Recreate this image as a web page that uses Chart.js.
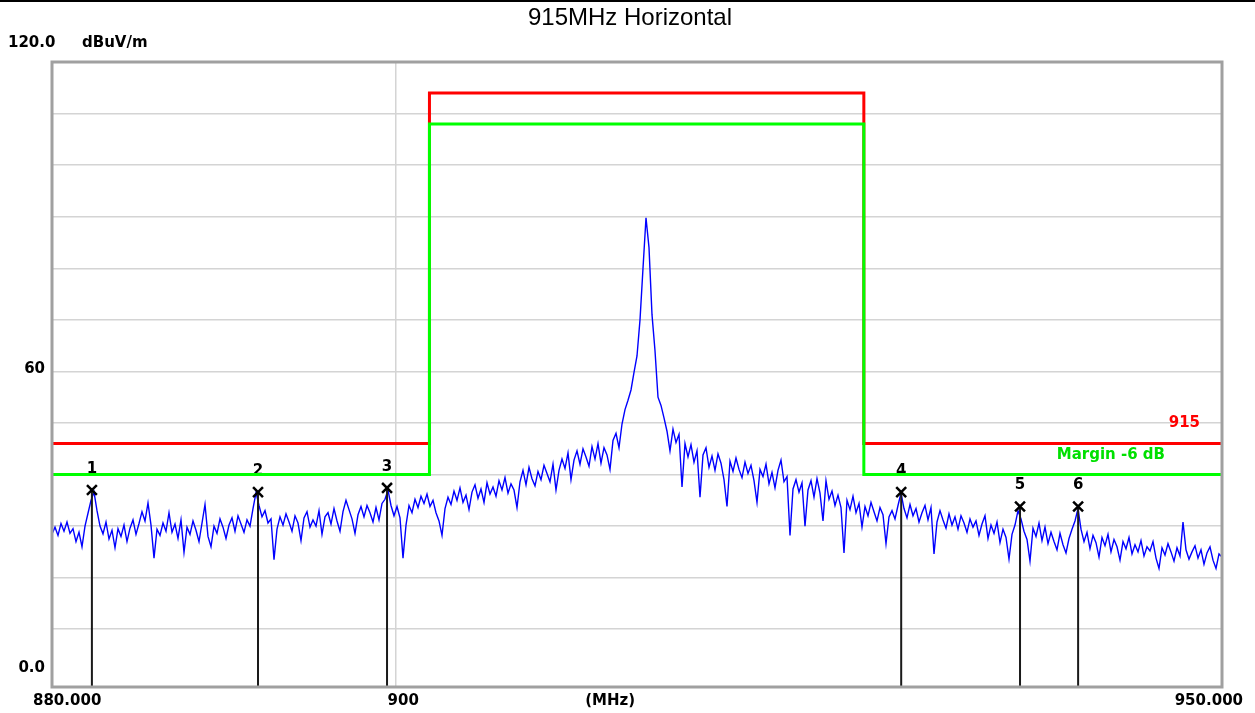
<!DOCTYPE html>
<html>
<head>
<meta charset="utf-8">
<script src="https://cdn.jsdelivr.net/npm/chart.js@4.4.1/dist/chart.umd.min.js"></script>
<style>
  html, body { margin: 0; padding: 0; background: #fff; }
  canvas { display: block; }
</style>
</head>
<body>
<canvas id="emiChart" width="1255" height="713"></canvas>
<script>
// sweep 880 - 950 MHz, levels in dBuV/m
const startFreq = 880;
const stopFreq = 950;
const yMin = -1.2;
const yMax = 120;

const limitFreqs = [880, 902, 902, 928, 928, 950];
const limitLevels = [46, 46, 114, 114, 46, 46];
const marginLevels = [40, 40, 108, 108, 40, 40];

const markerNames = ['1', '2', '3', '4', '5', '6'];
const markerFreqs = [882.30, 891.94, 899.50, 930.27, 937.53, 941.10];
const markerLevels = [37.0, 36.6, 37.4, 36.6, 33.8, 33.8];

const yLabelValues = [120, 60, 0];
const yLabelTexts = ['120.0', '60', '0.0'];
const xLabelValues = [880, 900, 950];
const xLabelTexts = ['880.000', '900', '950.000'];

// trace, one value every ~3 px from 880 to 950 MHz
const traceLevels = [
  28.5, 29.8, 28.2, 30.5, 29.0, 30.8, 28.6, 29.5, 27.0, 28.8, 26.0, 30.0, 32.5, 35.0,
  36.6, 33.0, 30.0, 28.5, 30.8, 27.5, 29.2, 25.8, 29.5, 28.0, 30.2, 27.0, 29.6, 31.2,
  28.4, 30.5, 32.8, 31.0, 34.5, 30.2, 23.8, 29.4, 28.2, 30.6, 29.0, 32.6, 28.8, 30.4,
  27.6, 31.2, 24.9, 29.8, 28.4, 31.0, 29.2, 27.0, 30.6, 34.2, 28.0, 26.0, 30.0, 28.6,
  31.4, 29.8, 27.6, 30.2, 31.6, 29.0, 32.0, 30.4, 28.8, 31.2, 30.0, 33.4, 36.5, 34.0,
  31.8, 33.0, 30.6, 31.4, 23.5, 29.4, 31.8, 30.2, 32.4, 30.8, 29.0, 32.0, 30.6, 27.2,
  31.6, 32.8, 29.8, 31.2, 30.0, 33.0, 28.4, 31.8, 32.6, 30.4, 33.4, 31.0, 29.0, 32.8,
  35.0, 33.2, 31.4, 28.6, 32.2, 33.8, 31.8, 34.0, 32.6, 30.8, 33.6, 31.2, 34.4, 35.2,
  37.0, 34.0, 32.0, 33.8, 31.6, 23.8, 30.2, 34.0, 32.6, 35.2, 33.6, 35.8, 34.4, 36.2,
  33.8, 35.0, 32.6, 31.0, 28.2, 33.4, 35.6, 34.2, 36.8, 35.0, 37.4, 34.6, 36.0, 33.2,
  36.6, 38.0, 35.4, 37.2, 34.6, 38.4, 36.2, 37.6, 35.8, 38.8, 37.0, 39.4, 36.4, 38.2,
  37.0, 33.6, 38.6, 40.8, 38.0, 41.4, 39.2, 37.8, 40.6, 39.0, 41.8, 40.2, 38.6, 42.0,
  37.0, 40.8, 43.0, 41.2, 44.2, 39.0, 42.8, 44.6, 42.0, 45.0, 43.4, 41.6, 45.4, 43.0,
  46.0, 42.2, 45.2, 43.8, 41.0, 46.6, 48.0, 45.2, 49.8, 52.6, 54.4, 56.4, 59.8, 63.0,
  70.0, 80.0, 89.8, 84.0, 71.0, 64.0, 55.0, 53.4, 51.0, 48.4, 44.6, 48.8, 46.2, 47.8,
  37.6, 46.0, 43.4, 45.8, 42.4, 44.6, 35.6, 43.8, 45.2, 41.4, 43.6, 40.8, 44.0, 42.2,
  39.0, 33.8, 42.6, 40.6, 43.2, 41.0, 39.4, 42.4, 40.2, 41.8, 38.8, 34.6, 41.0, 39.6,
  42.0, 38.2, 40.4, 37.4, 40.8, 42.8, 38.6, 39.6, 28.2, 37.2, 39.0, 36.6, 38.4, 30.0,
  37.0, 38.8, 35.6, 39.2, 36.4, 31.0, 38.8, 35.2, 36.8, 34.0, 36.0, 33.6, 24.8, 35.0,
  33.2, 35.8, 32.6, 34.4, 29.8, 33.8, 32.0, 34.6, 32.8, 31.0, 33.6, 32.2, 26.6, 31.8,
  33.0, 31.4, 34.0, 36.4, 33.4, 31.6, 34.2, 32.0, 33.4, 30.8, 32.6, 34.0, 31.2, 33.6,
  24.6, 30.8, 33.0, 31.2, 29.6, 32.4, 30.2, 31.8, 29.4, 32.0, 30.6, 28.8, 31.4, 29.8,
  31.0, 28.2, 30.4, 32.0, 27.6, 30.2, 28.6, 30.8, 26.8, 29.4, 27.8, 23.6, 28.4, 30.2,
  33.0, 31.4, 29.0, 27.4, 23.2, 29.6, 28.0, 30.6, 27.2, 29.8, 26.6, 28.8, 27.0, 25.4,
  28.6, 26.4, 24.8, 27.6, 29.4, 31.0, 33.4, 29.4, 27.0, 28.8, 25.6, 28.2, 26.8, 24.0,
  27.8, 26.2, 28.4, 25.0, 27.4, 26.0, 23.4, 27.0, 25.6, 27.8, 24.6, 26.4, 25.0, 27.2,
  24.2, 26.0, 25.2, 27.0, 23.8, 21.8, 25.8, 24.4, 26.6, 25.0, 23.2, 25.8, 24.2, 30.8,
  25.4, 23.6, 25.0, 26.2, 23.8, 25.4, 22.6, 24.8, 26.0, 23.4, 21.8, 24.6, 24.0
];

const labelFont = 'bold 15px "DejaVu Sans"';

// points evenly spaced along the (log) frequency axis
const tracePoints = traceLevels.map((v, i) => ({
  x: startFreq * Math.pow(stopFreq / startFreq, i / (traceLevels.length - 1)),
  y: v
}));

const limitPoints = limitFreqs.map((f, i) => ({ x: f, y: limitLevels[i] }));
const marginPoints = limitFreqs.map((f, i) => ({ x: f, y: marginLevels[i] }));
const markerPoints = markerFreqs.map((f, i) => ({ x: f, y: markerLevels[i] }));

// vertical drop line per marker, broken with null
const markerLinePoints = [];
markerFreqs.forEach((f, i) => {
  markerLinePoints.push({ x: f, y: markerLevels[i] });
  markerLinePoints.push({ x: f, y: yMin });
  markerLinePoints.push({ x: f, y: null });
});

const decorPlugin = {
  id: 'decor',
  beforeDraw(chart) {
    const ctx = chart.ctx;
    ctx.save();
    ctx.fillStyle = '#ffffff';
    ctx.fillRect(0, 0, chart.width, chart.height);
    ctx.fillStyle = '#000000';
    ctx.fillRect(0, 0, chart.width, 2);
    ctx.restore();
  },
  beforeDatasetsDraw(chart) {
    // marker numbers sit under the limit lines
    const ctx = chart.ctx;
    const xs = chart.scales.x, ys = chart.scales.y;
    ctx.save();
    ctx.font = labelFont;
    ctx.fillStyle = '#000000';
    ctx.textAlign = 'center';
    ctx.textBaseline = 'middle';
    markerNames.forEach((name, i) => {
      ctx.fillText(name, xs.getPixelForValue(markerFreqs[i]), ys.getPixelForValue(markerLevels[i]) - 21);
    });
    ctx.restore();
  },
  afterDraw(chart) {
    const ctx = chart.ctx;
    const area = chart.chartArea;
    const xs = chart.scales.x, ys = chart.scales.y;
    ctx.save();

    // plot frame
    ctx.strokeStyle = '#a0a0a0';
    ctx.lineWidth = 3;
    ctx.strokeRect(area.left, area.top, area.right - area.left, area.bottom - area.top);

    // title
    ctx.fillStyle = '#000000';
    ctx.font = '24px "Liberation Sans"';
    ctx.textAlign = 'center';
    ctx.textBaseline = 'middle';
    ctx.fillText('915MHz Horizontal', 630, 18);

    ctx.font = labelFont;
    // y labels
    yLabelValues.forEach((v, i) => {
      const py = ys.getPixelForValue(v);
      if (v === yMax) {
        ctx.textAlign = 'left';
        ctx.fillText(yLabelTexts[i], 8, py - 19);
      } else if (v === 0) {
        ctx.textAlign = 'right';
        ctx.fillText(yLabelTexts[i], area.left - 7, py - 13);
      } else {
        ctx.textAlign = 'right';
        ctx.fillText(yLabelTexts[i], area.left - 7, py - 2);
      }
    });
    ctx.textAlign = 'left';
    ctx.fillText('dBuV/m', 82, ys.getPixelForValue(yMax) - 19);

    // x labels
    const ly = area.bottom + 14;
    xLabelValues.forEach((v, i) => {
      const px = xs.getPixelForValue(v);
      if (i === 0) {
        ctx.textAlign = 'left';
        ctx.fillText(xLabelTexts[i], px - 19, ly);
      } else if (i === xLabelValues.length - 1) {
        ctx.textAlign = 'right';
        ctx.fillText(xLabelTexts[i], px + 21, ly);
      } else {
        ctx.textAlign = 'left';
        ctx.fillText(xLabelTexts[i], px - 8, ly);
      }
    });
    ctx.textAlign = 'center';
    ctx.fillText('(MHz)', area.left + (area.right - area.left) * 0.477, ly);

    // limit line captions
    ctx.textAlign = 'right';
    ctx.fillStyle = '#ff0000';
    ctx.fillText('915', area.right - 22, ys.getPixelForValue(limitLevels[0]) - 20);
    ctx.fillStyle = '#00e000';
    ctx.fillText('Margin -6 dB', area.right - 57, ys.getPixelForValue(marginLevels[0]) - 19);
    ctx.restore();
  }
};

const ctxChart = document.getElementById('emiChart').getContext('2d');
const emiChart = new Chart(ctxChart, {
  type: 'line',
  data: {
    datasets: [
      {
        label: 'Markers',
        data: markerPoints,
        showLine: false,
        pointStyle: 'crossRot',
        pointRadius: 7,
        pointBorderWidth: 2.5,
        borderColor: '#000000',
        order: 0
      },
      {
        label: 'Margin -6 dB',
        data: marginPoints,
        borderColor: '#00ff00',
        borderWidth: 3,
        pointRadius: 0,
        order: 1
      },
      {
        label: '915',
        data: limitPoints,
        borderColor: '#ff0000',
        borderWidth: 3,
        pointRadius: 0,
        order: 2
      },
      {
        label: 'Marker lines',
        data: markerLinePoints,
        borderColor: '#1a1a1a',
        borderWidth: 2,
        pointRadius: 0,
        spanGaps: false,
        order: 3
      },
      {
        label: 'Trace',
        data: tracePoints,
        borderColor: '#0000ff',
        borderWidth: 1.4,
        pointRadius: 0,
        order: 4
      }
    ]
  },
  options: {
    responsive: false,
    devicePixelRatio: 1,
    animation: false,
    layout: { padding: { left: 52, right: 33, top: 62, bottom: 26 } },
    plugins: {
      legend: { display: false },
      tooltip: { enabled: false },
      title: { display: false }
    },
    scales: {
      x: {
        type: 'logarithmic',
        min: startFreq,
        max: stopFreq,
        afterBuildTicks(scale) {
          scale.ticks = xLabelValues.map(v => ({ value: v }));
        },
        ticks: { display: false },
        border: { display: false },
        grid: {
          drawTicks: false,
          lineWidth: 1.5,
          color: c => (c.tick && c.tick.value === 900) ? '#d4d4d4' : 'rgba(0,0,0,0)'
        }
      },
      y: {
        type: 'linear',
        min: yMin,
        max: yMax,
        afterBuildTicks(scale) {
          const t = [];
          for (let v = 0; v <= 120; v += 10) t.push({ value: v });
          scale.ticks = t;
        },
        ticks: { display: false },
        border: { display: false },
        grid: {
          drawTicks: false,
          lineWidth: 1.5,
          color: c => (c.tick && c.tick.value > 0 && c.tick.value < 120) ? '#d4d4d4' : 'rgba(0,0,0,0)'
        }
      }
    }
  },
  plugins: [decorPlugin]
});
</script>
</body>
</html>
